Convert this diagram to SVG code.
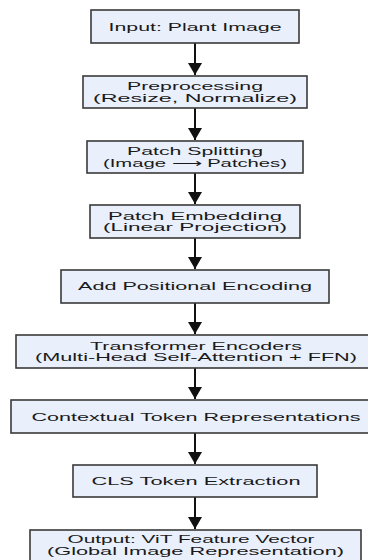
<svg xmlns="http://www.w3.org/2000/svg" width="368" height="560" viewBox="0 0 368 560">
<style>
.box{fill:#e9effb;stroke:#3a3a3a;stroke-width:1.6}
.t{font-family:"Liberation Sans",Arial,sans-serif;font-size:11.5px;fill:#1a1a1a;text-anchor:middle}
.edge{stroke:#111;stroke-width:2;fill:none}
</style>
<defs>
<marker id="ah" viewBox="0 0 12 14" refX="12" refY="7" markerWidth="12" markerHeight="14" markerUnits="userSpaceOnUse" orient="auto">
<path d="M0,0 L12,7 L0,14 Z" fill="#111"/>
</marker>
</defs>
<rect width="368" height="560" fill="#fff"/>
<g id="connectors">
<line class="edge" x1="195" y1="43" x2="195" y2="75" marker-end="url(#ah)"/>
<line class="edge" x1="195" y1="108" x2="195" y2="140" marker-end="url(#ah)"/>
<line class="edge" x1="195" y1="173" x2="195" y2="204" marker-end="url(#ah)"/>
<line class="edge" x1="195" y1="238" x2="195" y2="269" marker-end="url(#ah)"/>
<line class="edge" x1="195" y1="303" x2="195" y2="334" marker-end="url(#ah)"/>
<line class="edge" x1="195" y1="368" x2="195" y2="399" marker-end="url(#ah)"/>
<line class="edge" x1="195" y1="433" x2="195" y2="464" marker-end="url(#ah)"/>
<line class="edge" x1="195" y1="497" x2="195" y2="529" marker-end="url(#ah)"/>
</g>
<g id="n1"><rect class="box" x="91" y="10" width="208" height="33"/><text class="t" x="195" y="30.5" textLength="173" lengthAdjust="spacingAndGlyphs">Input: Plant Image</text></g>
<g id="n2"><rect class="box" x="83" y="76" width="224" height="32"/><text class="t" x="195" y="90" textLength="136" lengthAdjust="spacingAndGlyphs">Preprocessing</text><text class="t" x="195" y="101.5" textLength="204" lengthAdjust="spacingAndGlyphs">(Resize, Normalize)</text></g>
<g id="n3"><rect class="box" x="87" y="141" width="216" height="32"/><text class="t" x="195" y="155" textLength="136" lengthAdjust="spacingAndGlyphs">Patch Splitting</text><text class="t" x="195" y="166.5" textLength="184" lengthAdjust="spacingAndGlyphs">(Image ⟶ Patches)</text></g>
<g id="n4"><rect class="box" x="90" y="205" width="210" height="33"/><text class="t" x="195" y="219.5" textLength="174" lengthAdjust="spacingAndGlyphs">Patch Embedding</text><text class="t" x="195" y="231" textLength="184" lengthAdjust="spacingAndGlyphs">(Linear Projection)</text></g>
<g id="n5"><rect class="box" x="61" y="270" width="268" height="33"/><text class="t" x="195" y="290" textLength="234" lengthAdjust="spacingAndGlyphs">Add Positional Encoding</text></g>
<g id="n6"><rect class="box" x="16" y="335" width="360" height="33"/><text class="t" x="196" y="349.5" textLength="212" lengthAdjust="spacingAndGlyphs">Transformer Encoders</text><text class="t" x="196" y="361" textLength="322" lengthAdjust="spacingAndGlyphs">(Multi-Head Self-Attention + FFN)</text></g>
<g id="n7"><rect class="box" x="11" y="400" width="370" height="33"/><text class="t" x="196" y="420.5" textLength="329" lengthAdjust="spacingAndGlyphs">Contextual Token Representations</text></g>
<g id="n8"><rect class="box" x="73" y="465" width="244" height="32"/><text class="t" x="196" y="485" textLength="209" lengthAdjust="spacingAndGlyphs">CLS Token Extraction</text></g>
<g id="n9"><rect class="box" x="30" y="530" width="331" height="36"/><text class="t" x="191" y="543" textLength="247" lengthAdjust="spacingAndGlyphs">Output: ViT Feature Vector</text><text class="t" x="195.5" y="555" textLength="297" lengthAdjust="spacingAndGlyphs">(Global Image Representation)</text></g>
</svg>
